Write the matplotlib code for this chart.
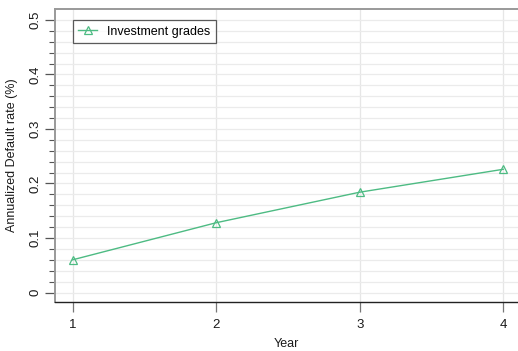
import matplotlib
matplotlib.use("Agg")
import matplotlib.pyplot as plt
import numpy as np

plt.rcParams['font.family'] = ['Liberation Sans', 'DejaVu Sans']

years = [1, 2, 3, 4]
default_rate = [0.060, 0.128, 0.184, 0.226]
series_label = "Investment grades"
y_major = [0, 0.1, 0.2, 0.3, 0.4, 0.5]
y_major_labels = ["0", "0.1", "0.2", "0.3", "0.4", "0.5"]

green = "#4dbb83"

fig = plt.figure(figsize=(5.18, 3.51), dpi=100)
ax = fig.add_axes([55 / 518, 1 - 302 / 351, 1 - 55 / 518, (302 - 9) / 351])

ax.plot(years, default_rate, color=green, lw=1.0, marker='^', markersize=6,
        markerfacecolor='none', markeredgecolor=green, markeredgewidth=0.9,
        label=series_label, zorder=3)

ax.set_xlim(0.877, 4.103)
ax.set_ylim(-0.0174, 0.520)

ax.set_xticks(years)
ax.set_xticklabels([str(y) for y in years])
ax.set_yticks(y_major)
ax.set_yticklabels(y_major_labels, rotation=90, va='center')
ax.set_yticks(np.arange(0, 0.501, 0.02), minor=True)

ax.grid(True, which='major', axis='x', color='#e6e6e6', lw=0.9, zorder=0)
ax.grid(True, which='both', axis='y', color='#ebebeb', lw=0.9, zorder=0)

ax.tick_params(axis='y', which='major', length=7, width=0.9, color='#555555',
               labelsize=9.5, pad=3, labelcolor='#1a1a1a')
ax.tick_params(axis='y', which='minor', length=4, width=0.8, color='#555555')
ax.tick_params(axis='x', which='major', length=7, width=0.9, color='#777777',
               labelsize=9.5, pad=5, labelcolor='#1a1a1a')

ax.spines['right'].set_visible(False)
ax.spines['top'].set_color('#999999')
ax.spines['top'].set_linewidth(1.4)
ax.spines['left'].set_color('#999999')
ax.spines['left'].set_linewidth(1.4)
ax.spines['bottom'].set_color('#222222')
ax.spines['bottom'].set_linewidth(1.0)

ax.set_xlabel("Year", fontsize=9, color='#1a1a1a', labelpad=5)
ax.set_ylabel("Annualized Default rate (%)", fontsize=9, color='#1a1a1a', labelpad=8)

leg = ax.legend(loc='upper left', bbox_to_anchor=(0.038, 0.962), fontsize=9,
                frameon=True, fancybox=False, handlelength=1.5,
                borderpad=0.45, handletextpad=0.8, borderaxespad=0)
leg.get_frame().set_edgecolor('#333333')
leg.get_frame().set_linewidth(0.9)

fig.savefig("out.png", dpi=100, facecolor='white')
